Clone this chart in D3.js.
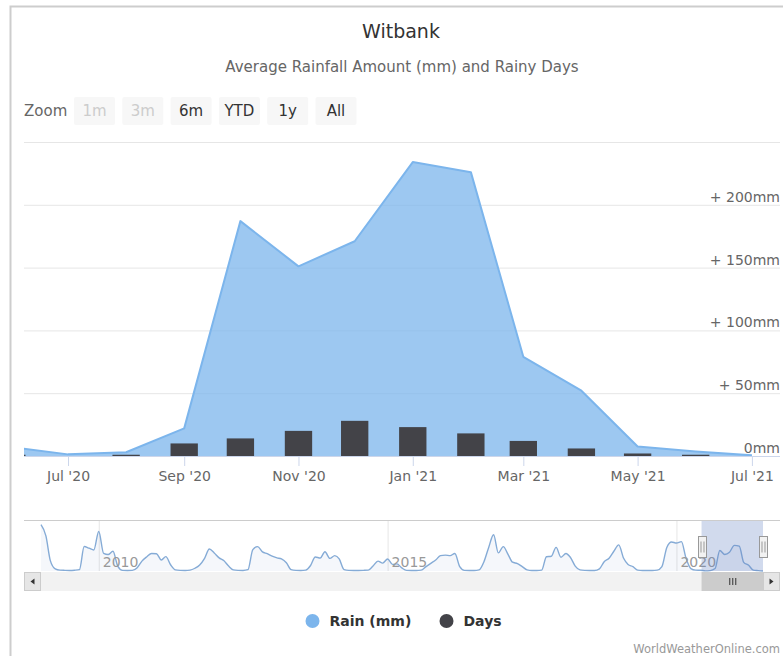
<!DOCTYPE html>
<html>
<head>
<meta charset="utf-8">
<script src="https://cdn.jsdelivr.net/npm/d3@7"></script>
<style>
  html, body { margin: 0; padding: 0; background: #fff; }
  svg { display: block; font-family: "DejaVu Sans", Verdana, sans-serif; }
</style>
</head>
<body>
<svg id="chart" width="783" height="656"></svg>
<script>
// ---- data -------------------------------------------------------------
// Monthly average rainfall (mm), one value per month starting Jan 2009.
const rainFirstMonth = "2009-01";
const rainMonthly = [
  422, 320, 95, 20, 8, 6, 5, 7, 12, 223, 208, 192,        // 2009
  360, 160, 150, 180, 45, 6, 5, 6, 30, 90, 130, 160,      // 2010
  157, 100, 131, 55, 10, 6, 5, 8, 25, 55, 116, 200,       // 2011
  165, 120, 95, 45, 10, 6, 5, 12, 195, 222, 175, 158,     // 2012
  135, 120, 110, 75, 12, 6, 5, 8, 50, 128, 118, 175,      // 2013
  115, 140, 110, 12, 6, 5, 5, 6, 8, 45, 90, 72,           // 2014
  110, 60, 65, 28, 6, 5, 5, 8, 40, 70, 100, 140,          // 2015
  145, 140, 160, 40, 6, 5, 5, 10, 85, 215, 330, 165,      // 2016
  222, 150, 80, 68, 40, 10, 5, 5, 8, 130, 135, 215,       // 2017
  125, 160, 125, 45, 10, 6, 5, 5, 20, 85, 116, 180,       // 2018
  238, 116, 60, 40, 8, 5, 5, 5, 8, 40, 215, 265,          // 2019
  255, 268, 120, 22, 8, 7, 1.3, 3, 22, 187, 151, 171,     // 2020
  234, 226, 79, 52, 7.5, 3.5, 0.5                         // 2021
];

// Rainy days per month for the displayed period.
const dayMonths = ["2020-06", "2020-07", "2020-08", "2020-09", "2020-10", "2020-11", "2020-12",
                   "2021-01", "2021-02", "2021-03", "2021-04", "2021-05", "2021-06", "2021-07"];
const rainyDays = [1, 0, 1, 10, 14, 20, 28, 23, 18, 12, 6, 2, 1, 0];

const rainTicks = [0, 50, 100, 150, 200, 250];
const navYears = [2010, 2015, 2020];
const zoomButtons = ["1m", "3m", "6m", "YTD", "1y", "All"];
const disabledButtons = ["1m", "3m"];
const viewRange = ["2020-06-07T12:00", "2021-07-16T00:00"];

// ---- helpers ------------------------------------------------------------
const FONT = "DejaVu Sans, Verdana, sans-serif";
const parseMonth = d3.timeParse("%Y-%m");
const parseStamp = d3.timeParse("%Y-%m-%dT%H:%M");
const first = parseMonth(rainFirstMonth);
const rainSeries = rainMonthly.map((v, i) => ({ date: d3.timeMonth.offset(first, i), rain: v }));
const daySeries = dayMonths.map((m, i) => ({ date: parseMonth(m), days: rainyDays[i] }));
const viewStart = parseStamp(viewRange[0]);
const viewEnd = parseStamp(viewRange[1]);

const svg = d3.select("#chart");

// outer frame
svg.append("rect")
  .attr("x", 10.5).attr("y", 6.5).attr("width", 820).attr("height", 700)
  .attr("fill", "none").attr("stroke", "#cdcdcd").attr("stroke-width", 2);

// title + subtitle
svg.append("text").attr("x", 401).attr("y", 38).attr("text-anchor", "middle")
  .attr("font-size", 19).attr("fill", "#333").text("Witbank");
svg.append("text").attr("x", 402).attr("y", 72).attr("text-anchor", "middle")
  .attr("font-size", 15).attr("fill", "#666").text("Average Rainfall Amount (mm) and Rainy Days");

// range selector buttons
svg.append("text").attr("x", 24).attr("y", 116).attr("font-size", 15).attr("fill", "#666").text("Zoom");
const btn = svg.append("g").selectAll("g").data(zoomButtons).join("g")
  .attr("transform", (d, i) => `translate(${74 + i * 48.3},97)`);
btn.append("rect").attr("width", 41).attr("height", 28).attr("rx", 2).attr("fill", "#f7f7f7");
btn.append("text").attr("x", 20.5).attr("y", 19).attr("text-anchor", "middle")
  .attr("font-size", 15)
  .attr("fill", d => disabledButtons.includes(d) ? "#cccccc" : "#333")
  .text(d => d);

// ---- main plot --------------------------------------------------------
const P = { left: 24, right: 780, top: 142, bottom: 456 };
const x = d3.scaleTime().domain([viewStart, viewEnd]).range([P.left, P.right]);
const y = d3.scaleLinear().domain([0, 250]).range([P.bottom, P.top]);

// horizontal grid + right-side labels
const yAxis = d3.axisLeft(y).tickValues(rainTicks).tickSize(P.right - P.left)
  .tickFormat(d => d === 0 ? "0mm" : "+ " + d + "mm");
const gy = svg.append("g").attr("transform", `translate(${P.right},0)`).call(yAxis)
  .attr("font-family", FONT).attr("font-size", 14);
gy.select(".domain").remove();
gy.selectAll(".tick line").attr("stroke", "#e6e6e6");
gy.selectAll(".tick text")
  .attr("x", 0).attr("dy", -3.5).attr("text-anchor", "end").attr("fill", "#666")
  .style("display", d => d === 250 ? "none" : null);

svg.append("clipPath").attr("id", "plotClip").append("rect")
  .attr("x", P.left).attr("y", P.top - 2).attr("width", P.right - P.left).attr("height", P.bottom - P.top + 2);
const plot = svg.append("g").attr("clip-path", "url(#plotClip)");

const visible = rainSeries.filter(d => d.date >= d3.timeMonth.offset(viewStart, -2) && d.date <= d3.timeMonth.offset(viewEnd, 2));
plot.append("path").datum(visible)
  .attr("fill", "#7cb5ec").attr("fill-opacity", 0.75)
  .attr("d", d3.area().x(d => x(d.date)).y0(y(0)).y1(d => y(d.rain)));
plot.append("path").datum(visible)
  .attr("fill", "none").attr("stroke", "#7cb5ec").attr("stroke-width", 2).attr("stroke-linejoin", "round")
  .attr("d", d3.line().x(d => x(d.date)).y(d => y(d.rain)));

// rainy-day columns
const dayPx = (x(new Date(2021, 0, 1)) - x(new Date(2020, 0, 1))) / 366;
const barW = dayPx * 30.4 * 0.48;
plot.selectAll("rect.day").data(daySeries).join("rect").attr("class", "day")
  .attr("x", d => x(d.date) - barW / 2).attr("width", barW)
  .attr("y", d => y(d.days)).attr("height", d => y(0) - y(d.days))
  .attr("fill", "#434348");

// x axis
const xAxis = d3.axisBottom(x).ticks(d3.timeMonth.every(2)).tickFormat(d3.timeFormat("%b '%y"))
  .tickSize(10).tickPadding(5);
const gx = svg.append("g").attr("transform", `translate(0,${P.bottom})`).call(xAxis)
  .attr("font-family", FONT).attr("font-size", 14);
gx.select(".domain").attr("stroke", "#ccd6eb").attr("d", `M${P.left},0.5H${P.right}`);
gx.selectAll(".tick line").attr("stroke", "#ccd6eb");
gx.selectAll(".tick text").attr("fill", "#666");

// ---- navigator --------------------------------------------------------
const N = { left: 41, right: 763, top: 520, bottom: 571 };
const nx = d3.scaleTime().domain([rainSeries[0].date, rainSeries[rainSeries.length - 1].date]).range([N.left, N.right]);
const ny = d3.scaleLinear().domain([0, 465]).range([N.bottom, N.top]);

const nav = svg.append("g");
nav.selectAll("line.yr").data(navYears).join("line").attr("class", "yr")
  .attr("x1", d => nx(new Date(d, 0, 1)) + 0.5).attr("x2", d => nx(new Date(d, 0, 1)) + 0.5)
  .attr("y1", N.top).attr("y2", N.bottom).attr("stroke", "#e6e6e6");
nav.append("path").datum(rainSeries)
  .attr("fill", "#335cad").attr("fill-opacity", 0.05)
  .attr("d", d3.area().curve(d3.curveMonotoneX).x(d => nx(d.date)).y0(N.bottom).y1(d => ny(d.rain)));
nav.append("path").datum(rainSeries)
  .attr("fill", "none").attr("stroke", "#85abd6").attr("stroke-width", 1.4)
  .attr("d", d3.line().curve(d3.curveMonotoneX).x(d => nx(d.date)).y(d => ny(d.rain)));
nav.selectAll("text.yr").data(navYears).join("text").attr("class", "yr")
  .attr("x", d => nx(new Date(d, 0, 1)) + 4).attr("y", 566.5)
  .attr("font-size", 14).attr("fill", "#999").text(d => d);

// selected range mask
const selL = Math.max(N.left, nx(viewStart));
const selR = Math.min(N.right, nx(viewEnd));
nav.append("rect").attr("x", selL).attr("y", N.top).attr("width", selR - selL).attr("height", N.bottom - N.top)
  .attr("fill", "rgba(102,133,194,0.3)");
nav.append("line").attr("x1", 24).attr("x2", P.right).attr("y1", N.top + 0.5).attr("y2", N.top + 0.5)
  .attr("stroke", "#cccccc");

// handles
[selL, selR].forEach(hx => {
  const h = nav.append("g").attr("transform", `translate(${Math.round(hx) + 0.5},536.5)`);
  h.append("rect").attr("x", -4).attr("y", 0).attr("width", 8).attr("height", 21)
    .attr("fill", "#f2f2f2").attr("stroke", "#999");
  [-1.5, 1.5].forEach(o => h.append("line").attr("x1", o).attr("x2", o).attr("y1", 5).attr("y2", 16).attr("stroke", "#999"));
});

// scrollbar
const S = { top: 572, h: 19 };
nav.append("rect").attr("x", 24).attr("y", S.top).attr("width", P.right - 24).attr("height", S.h).attr("fill", "#f2f2f2");
nav.append("rect").attr("x", selL).attr("y", S.top).attr("width", selR - selL).attr("height", S.h).attr("fill", "#cccccc");
const midT = (selL + selR) / 2;
[-3, 0, 3].forEach(o => nav.append("line").attr("x1", midT + o + 0.5).attr("x2", midT + o + 0.5)
  .attr("y1", S.top + 6).attr("y2", S.top + 13).attr("stroke", "#333"));
[[24, -1], [P.right - 17, 1]].forEach(([bx, dir]) => {
  nav.append("rect").attr("x", bx + 0.5).attr("y", S.top + 0.5).attr("width", 16).attr("height", S.h - 1)
    .attr("fill", "#e6e6e6").attr("stroke", "#cccccc");
  const cx = bx + 8.5, cy = S.top + S.h / 2;
  nav.append("path").attr("fill", "#333")
    .attr("d", `M${cx + 2 * dir},${cy}L${cx - 2 * dir},${cy - 3}L${cx - 2 * dir},${cy + 3}Z`);
});

// ---- legend + credits -------------------------------------------------
const legendItems = [
  { name: "Rain (mm)", color: "#7cb5ec", cx: 312.5 },
  { name: "Days", color: "#434348", cx: 446.5 }
];
const lg = svg.append("g").selectAll("g").data(legendItems).join("g");
lg.append("circle").attr("cx", d => d.cx).attr("cy", 621).attr("r", 7).attr("fill", d => d.color);
lg.append("text").attr("x", d => d.cx + 17).attr("y", 626).attr("font-size", 14).attr("font-weight", "bold")
  .attr("fill", "#333").text(d => d.name);

svg.append("text").attr("x", 780).attr("y", 653).attr("text-anchor", "end")
  .attr("font-size", 11.5).attr("fill", "#999").text("WorldWeatherOnline.com");
</script>
</body>
</html>
